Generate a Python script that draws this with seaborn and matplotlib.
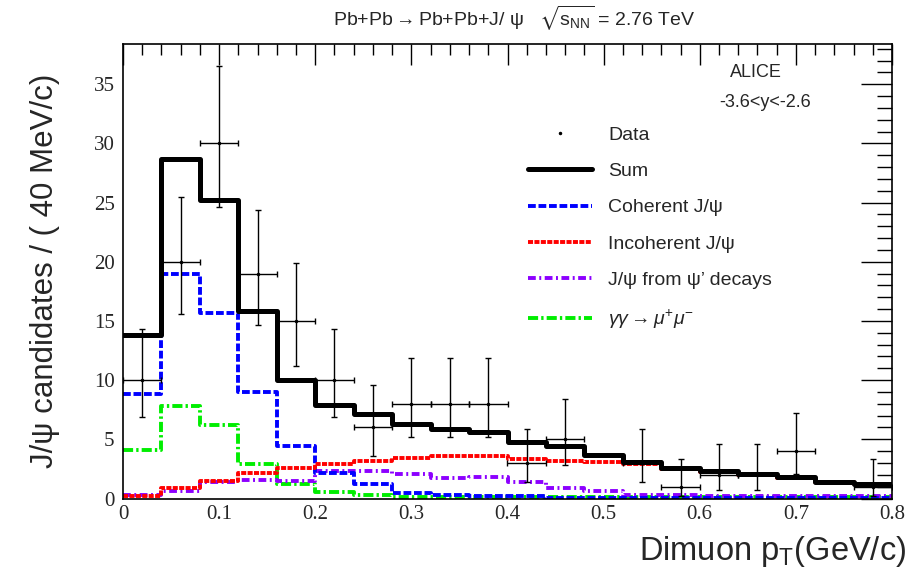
import matplotlib
matplotlib.use("Agg")
import matplotlib.pyplot as plt
from matplotlib.lines import Line2D
from matplotlib.ticker import MultipleLocator, FuncFormatter
import numpy as np
import seaborn as sns

# ---------------- data ----------------
bin_edges = [0.00, 0.04, 0.08, 0.12, 0.16, 0.20, 0.24, 0.28, 0.32, 0.36, 0.40,
             0.44, 0.48, 0.52, 0.56, 0.60, 0.64, 0.68, 0.72, 0.76, 0.80]
bin_centers = [0.02, 0.06, 0.10, 0.14, 0.18, 0.22, 0.26, 0.30, 0.34, 0.38,
               0.42, 0.46, 0.50, 0.54, 0.58, 0.62, 0.66, 0.70, 0.74, 0.78]

sum_vals = [13.8, 28.7, 25.2, 15.8, 10.0, 7.9, 7.1, 6.3, 5.9, 5.6,
            4.8, 4.4, 3.7, 3.05, 2.6, 2.35, 2.1, 1.8, 1.4, 1.25]
coherent = [8.8, 19.0, 15.7, 9.0, 4.4, 2.15, 1.2, 0.5, 0.3, 0.25,
            0.2, 0.08, 0.07, 0.06, 0.05, 0.05, 0.04, 0.04, 0.04, 0.03]
incoherent = [0.2, 0.9, 1.45, 2.15, 2.6, 2.9, 3.2, 3.4, 3.55, 3.56,
              3.37, 3.2, 3.1, 2.9, 2.5, 2.25, 2.0, 1.7, 1.37, 1.2]
psiprime = [0.3, 0.6, 1.4, 1.6, 1.5, 2.3, 2.3, 2.1, 1.75, 1.8,
            1.37, 0.9, 0.6, 0.33, 0.28, 0.25, 0.24, 0.22, 0.2, 0.2]
gammagamma = [4.1, 7.8, 6.2, 2.9, 1.25, 0.56, 0.3, 0.15, 0.12, 0.1,
              0.1, 0.1, 0.1, 0.1, 0.1, 0.1, 0.1, 0.1, 0.1, 0.1]

# data points (empty bins not drawn)
data_x = [0.02, 0.06, 0.10, 0.14, 0.18, 0.22, 0.26, 0.30, 0.34, 0.38,
          0.42, 0.46, 0.54, 0.58, 0.62, 0.66, 0.70, 0.78]
data_y = [10, 20, 30, 19, 15, 10, 6, 8, 8, 8, 3, 5, 3, 1, 2, 2, 4, 1]
data_err_lo = [3.1, 4.4, 5.4, 4.3, 3.8, 3.1, 2.4, 2.8, 2.8, 2.8,
               1.6, 2.2, 1.6, 0.8, 1.3, 1.3, 1.9, 0.8]
data_err_hi = [4.3, 5.5, 6.5, 5.4, 4.9, 4.3, 3.6, 3.9, 3.9, 3.9,
               2.9, 3.4, 2.9, 2.3, 2.6, 2.6, 3.2, 2.3]
data_xerr = [0.02] * len(data_x)

x_ticks = [0.0, 0.1, 0.2, 0.3, 0.4, 0.5, 0.6, 0.7, 0.8]
y_ticks = [0, 5, 10, 15, 20, 25, 30, 35]

legend_labels = ["Data", "Sum", "Coherent J/\u03c8", "Incoherent J/\u03c8",
                 "J/\u03c8 from \u03c8\u2019 decays",
                 r"$\gamma\gamma\rightarrow\mu^{+}\mu^{-}$"]

# ---------------- style ----------------
sns.set_style("white")
plt.rcParams["font.family"] = ["Liberation Sans", "DejaVu Sans"]
plt.rcParams["mathtext.fontset"] = "custom"
plt.rcParams["mathtext.rm"] = "Liberation Sans"
plt.rcParams["mathtext.it"] = "Liberation Sans:italic"
plt.rcParams["mathtext.bf"] = "Liberation Sans:bold"
plt.rcParams["mathtext.fallback"] = "stix"

fig = plt.figure(figsize=(9.14, 5.75), dpi=100)
ax = fig.add_axes([123 / 914, 1 - 498.5 / 575, 769 / 914, 454.5 / 575])

styles = {
    "coh": dict(color="#0000ff", lw=2.8, ls=(0, (2.0, 0.7))),
    "inc": dict(color="#ff0000", lw=2.8, ls=(0, (1.3, 0.35))),
    "psi": dict(color="#8c00ff", lw=2.8, ls=(0, (2.0, 0.9, 0.5, 0.9))),
    "gg": dict(color="#00ee00", lw=2.8, ls=(0, (2.6, 0.8, 0.6, 0.8))),
    "sum": dict(color="black", lw=3.6, ls="-"),
}

series = [("gg", gammagamma), ("psi", psiprime), ("coh", coherent),
          ("inc", incoherent), ("sum", sum_vals)]
for key, vals in series:
    st = styles[key]
    sns.histplot(x=bin_centers, weights=vals, bins=bin_edges, element="step",
                 fill=False, color=st["color"], linewidth=st["lw"],
                 linestyle=st["ls"], ax=ax)

ax.errorbar(data_x, data_y, yerr=[data_err_lo, data_err_hi], xerr=data_xerr,
            fmt=".", color="black", ms=3, elinewidth=1.0, capsize=2,
            capthick=1.0, zorder=5)

ax.set_xlim(0, 0.8)
ax.set_ylim(0, 38.4)
ax.set_xticks(x_ticks)
ax.set_yticks(y_ticks)
ax.xaxis.set_minor_locator(MultipleLocator(0.02))
ax.yaxis.set_minor_locator(MultipleLocator(1))
ax.xaxis.set_major_formatter(FuncFormatter(lambda v, p: f"{v:g}"))
ax.yaxis.set_major_formatter(FuncFormatter(lambda v, p: f"{v:g}"))

ax.tick_params(which="both", direction="in", top=True, right=True,
               color="black", width=1.0)
ax.tick_params(axis="x", which="major", length=15, pad=5)
ax.tick_params(axis="x", which="minor", length=8)
ax.tick_params(axis="y", which="major", length=22, pad=6)
ax.tick_params(axis="y", which="minor", length=11)
for lab in ax.get_xticklabels() + ax.get_yticklabels():
    lab.set_fontfamily("Liberation Serif")
    lab.set_fontsize(15)
for sp in ax.spines.values():
    sp.set_color("black")
    sp.set_linewidth(1.2)

ax.set_xlabel(r"Dimuon p$_{\rm T}$(GeV/c)", fontsize=23.5, ha="right",
              x=1.018, labelpad=7)
ax.set_ylabel("J/\u03c8 candidates / ( 40 MeV/c)", fontsize=22.5, labelpad=24)

fig.text(0.563, 0.968,
         r"Pb+Pb$\rightarrow$Pb+Pb+J/ $\mathrm{\psi}$   $\sqrt{\mathrm{s}_{\rm NN}}$ = 2.76 TeV",
         ha="center", va="center", fontsize=14)

ax.text(0.823, 0.938, "ALICE", transform=ax.transAxes, ha="center",
        va="center", fontsize=13)
ax.text(0.835, 0.872, "-3.6<y<-2.6", transform=ax.transAxes, ha="center",
        va="center", fontsize=13)

handles = [
    Line2D([], [], marker=".", color="black", ls="none", ms=3),
    Line2D([], [], **styles["sum"]),
    Line2D([], [], **styles["coh"]),
    Line2D([], [], **styles["inc"]),
    Line2D([], [], **styles["psi"]),
    Line2D([], [], **styles["gg"]),
]
ax.legend(handles, legend_labels, loc="upper left",
          bbox_to_anchor=(0.527, 0.819), frameon=False, fontsize=14,
          handlelength=3.3, handletextpad=0.8, labelspacing=0.96,
          borderpad=0, borderaxespad=0)

fig.savefig("out.png", dpi=100)
